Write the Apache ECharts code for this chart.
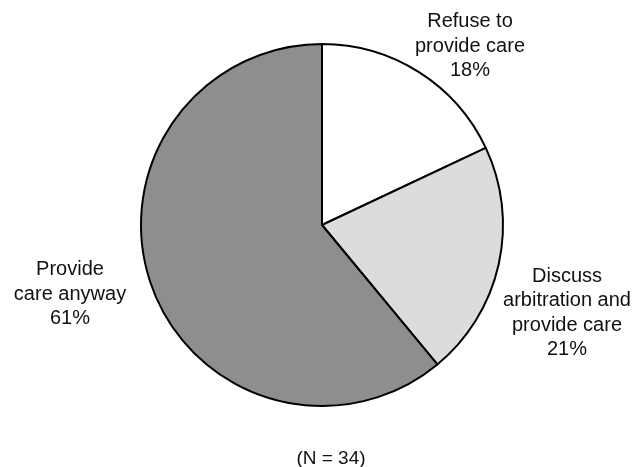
<!DOCTYPE html>
<html>
<head>
<meta charset="utf-8">
<script src="https://cdn.jsdelivr.net/npm/echarts@6/dist/echarts.min.js"></script>
<style>
  html, body { margin: 0; padding: 0; background: #ffffff; }
  #chart { width: 634px; height: 467px; }
</style>
</head>
<body>
<div id="chart"></div>
<script>
// Responses, in percent of respondents
const categories = ['Refuse to\nprovide care', 'Discuss\narbitration and\nprovide care', 'Provide\ncare anyway'];
const shares = [18, 21, 61];
const sampleNote = '(N = 34)';

// Slice fills and label anchors (pixel positions of each label block centre)
const fills = ['#ffffff', '#dcdcdc', '#8e8e8e'];
const labelAnchors = [[470, 46], [567, 313], [70, 294]];

const chart = echarts.init(document.getElementById('chart'), null, { renderer: 'canvas' });

chart.setOption({
  animation: false,
  backgroundColor: '#ffffff',
  title: {
    text: sampleNote,
    left: 326,
    top: 444,
    textAlign: 'center',
    textStyle: { fontFamily: 'Liberation Sans', fontSize: 19, fontWeight: 'normal', color: '#111111' }
  },
  series: [{
    type: 'pie',
    center: [322, 225],
    radius: [0, 181],
    startAngle: 90,
    clockwise: true,
    silent: true,
    avoidLabelOverlap: false,
    data: categories.map((name, i) => ({
      name: name,
      value: shares[i],
      itemStyle: { color: fills[i] }
    })),
    itemStyle: { borderColor: '#000000', borderWidth: 2 },
    label: {
      show: true,
      formatter: p => p.name + '\n' + p.value + '%',
      fontFamily: 'Liberation Sans',
      fontSize: 20,
      lineHeight: 24.5,
      color: '#111111',
      align: 'center'
    },
    labelLine: { show: false },
    labelLayout: params => ({
      x: labelAnchors[params.dataIndex][0],
      y: labelAnchors[params.dataIndex][1],
      align: 'center',
      verticalAlign: 'middle'
    })
  }]
});
</script>
</body>
</html>
